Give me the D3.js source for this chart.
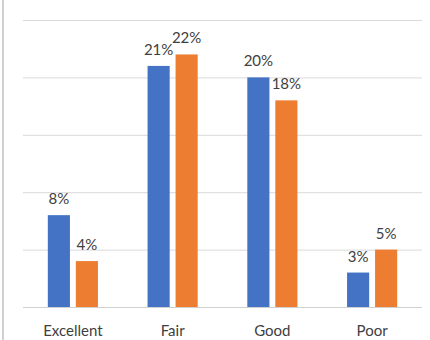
<!DOCTYPE html>
<html>
<head>
<meta charset="utf-8">
<script src="https://cdn.jsdelivr.net/npm/d3@7"></script>
<style>
  html, body { margin: 0; padding: 0; background: #fff; }
  svg { display: block; }
</style>
</head>
<body>
<script>
const categories = ["Excellent", "Fair", "Good", "Poor"];
const seriesNames = ["Series A", "Series B"];
const seriesA = [8, 21, 20, 3];
const seriesB = [4, 22, 18, 5];
const yTicks = [0, 5, 10, 15, 20, 25];

const W = 430, H = 340;
const margin = { left: 23, right: 8, top: 20, bottom: 33 };
const colors = ["#4472C4", "#ED7D31"];

const svg = d3.select("body").append("svg").attr("width", W).attr("height", H);

// frame edge on the left
svg.append("line").attr("x1", 3).attr("x2", 3).attr("y1", 0).attr("y2", H)
  .attr("stroke", "#d0d0d0").attr("stroke-width", 2);

const x = d3.scaleBand().domain(categories).range([margin.left, W - margin.right]).paddingInner(0).paddingOuter(0);
const y = d3.scaleLinear().domain([0, 25]).range([H - margin.bottom, margin.top]);
const xs = d3.scaleBand().domain(seriesNames).range([0, x.bandwidth()]).paddingInner(0.21).paddingOuter(0.886);

// gridlines
const yAxis = d3.axisLeft(y).tickValues(yTicks).tickSize(-(W - margin.left - margin.right)).tickFormat("");
const gy = svg.append("g").attr("transform", `translate(${margin.left},0)`).call(yAxis);
gy.select(".domain").remove();
gy.selectAll(".tick line").attr("stroke", "#d9d9d9").attr("stroke-width", 1);
gy.selectAll(".tick").filter(d => d === 0).select("line").attr("stroke", "#d0d0d0");

const data = categories.map((c, i) => ({ c, vals: [seriesA[i], seriesB[i]] }));

const groups = svg.selectAll("g.cat").data(data).join("g").attr("class", "cat")
  .attr("transform", d => `translate(${x(d.c)},0)`);

groups.selectAll("rect").data(d => d.vals.map((v, j) => ({ v, s: seriesNames[j], j })))
  .join("rect")
  .attr("x", d => xs(d.s))
  .attr("width", xs.bandwidth())
  .attr("y", d => y(d.v))
  .attr("height", d => y(0) - y(d.v))
  .attr("fill", d => colors[d.j]);

groups.selectAll("text.lbl").data(d => d.vals.map((v, j) => ({ v, s: seriesNames[j], j })))
  .join("text").attr("class", "lbl")
  .attr("x", d => xs(d.s) + xs.bandwidth() / 2)
  .attr("y", d => y(d.v) - 11)
  .attr("text-anchor", "middle")
  .attr("font-family", "Lato, 'Open Sans', sans-serif")
  .attr("font-size", 15)
  .attr("fill", "#404040")
  .text(d => d.v + "%");

// category axis
const xAxis = d3.axisBottom(x).tickSize(0).tickPadding(0);
const gx = svg.append("g").attr("transform", `translate(0,${y(0)})`).call(xAxis);
gx.select(".domain").remove();
gx.selectAll("text")
  .attr("dy", null)
  .attr("y", 29)
  .attr("font-family", "Lato, 'Open Sans', sans-serif")
  .attr("font-size", 15)
  .attr("fill", "#404040");
</script>
</body>
</html>
